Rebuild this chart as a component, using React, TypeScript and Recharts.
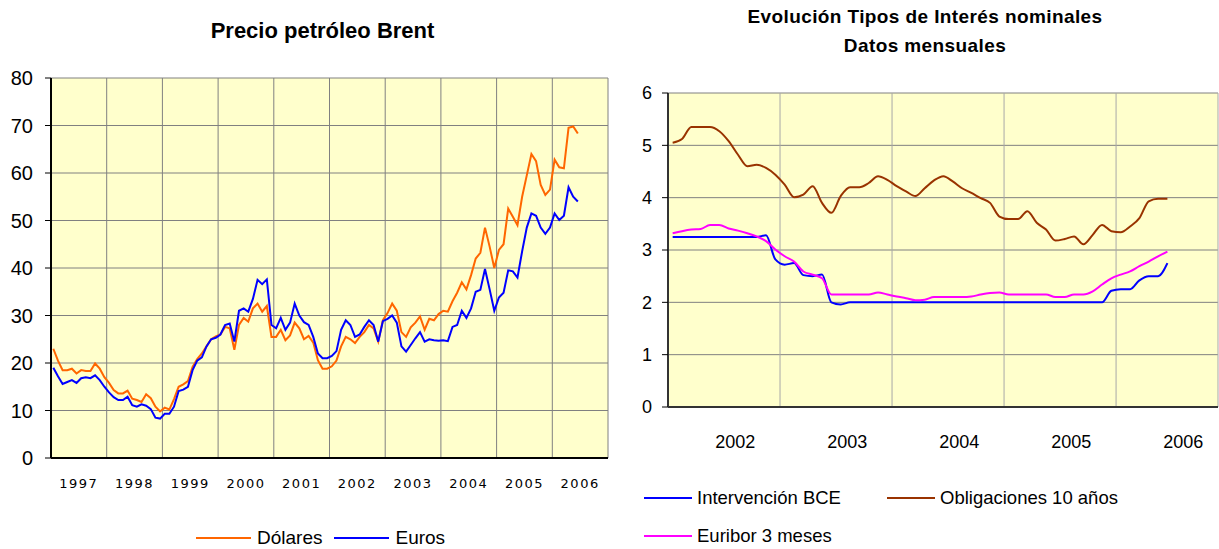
import { LineChart, Line, XAxis, YAxis, CartesianGrid } from "recharts";

// Precio petróleo Brent, monthly, Jan 1997 - Jun 2006
const OIL_START = 1997;
const oilYears = [1997, 1998, 1999, 2000, 2001, 2002, 2003, 2004, 2005, 2006];
const oilGridYears = [1997, 1998, 1999, 2000, 2001, 2002, 2003, 2004, 2005, 2006, 2007];
const oilTicks = [0, 10, 20, 30, 40, 50, 60, 70, 80];

const dolares = [
  23.0, 20.5, 18.5, 18.5, 18.8, 17.8, 18.5, 18.3, 18.3, 19.9, 18.8, 17.0, // 1997
  15.8, 14.3, 13.6, 13.6, 14.2, 12.5, 12.2, 11.8, 13.4, 12.6, 10.8, 9.8, // 1998
  10.6, 10.2, 12.4, 15.0, 15.5, 16.2, 19.2, 20.8, 22.0, 23.5, 25.0, 25.6, // 1999
  26.0, 27.6, 27.3, 22.8, 28.0, 29.5, 28.7, 31.5, 32.5, 30.8, 32.0, 25.5, // 2000
  25.5, 27.0, 24.8, 25.8, 28.5, 27.3, 25.0, 25.7, 24.3, 20.6, 18.8, 18.8, // 2001
  19.3, 20.5, 23.5, 25.5, 25.0, 24.2, 25.5, 26.5, 28.0, 27.3, 24.5, 29.0, // 2002
  30.5, 32.5, 31.0, 26.5, 25.5, 27.5, 28.5, 29.8, 27.0, 29.3, 29.0, 30.3, // 2003
  31.0, 30.8, 33.0, 34.8, 37.0, 35.5, 38.5, 42.0, 43.2, 48.5, 44.5, 40.0, // 2004
  43.8, 45.0, 52.5, 50.8, 49.0, 55.0, 59.5, 64.0, 62.5, 57.5, 55.4, 56.5, // 2005
  62.8, 61.2, 61.0, 69.5, 69.8, 68.3, // 2006
];

const euros = [
  19.0, 17.2, 15.6, 16.0, 16.4, 15.8, 16.8, 17.0, 16.8, 17.4, 16.4, 15.0, // 1997
  13.8, 12.8, 12.2, 12.2, 12.9, 11.1, 10.8, 11.3, 11.0, 10.3, 8.5, 8.3, // 1998
  9.3, 9.3, 10.8, 14.1, 14.4, 15.0, 18.5, 20.5, 21.2, 23.5, 25.0, 25.3, // 1999
  26.0, 28.0, 28.3, 24.5, 31.0, 31.5, 30.8, 33.5, 37.5, 36.6, 37.6, 28.0, // 2000
  27.3, 29.5, 27.0, 28.5, 32.5, 30.0, 28.6, 28.0, 25.5, 22.0, 21.0, 21.0, // 2001
  21.5, 22.5, 27.0, 29.0, 28.0, 25.5, 26.0, 27.6, 29.0, 28.0, 24.5, 28.8, // 2002
  29.3, 30.0, 28.5, 23.5, 22.4, 23.8, 25.2, 26.5, 24.5, 25.0, 24.8, 24.7, // 2003
  24.8, 24.6, 27.6, 28.0, 31.0, 29.5, 31.5, 35.0, 35.4, 39.8, 35.5, 31.0, // 2004
  33.8, 34.8, 39.5, 39.3, 38.0, 43.5, 48.5, 51.5, 51.0, 48.5, 47.2, 48.5, // 2005
  51.5, 50.1, 51.0, 57.0, 55.0, 54.0, // 2006
];

// Tipos de interés nominales, monthly, Jan 2002 - Jun 2006
const RATE_START = 2002;
const rateYears = [2002, 2003, 2004, 2005, 2006];
const rateGridYears = [2003, 2004, 2005, 2006, 2006.91];
const rateTicks = [0, 1, 2, 3, 4, 5, 6];

const intervencionBCE = [
  3.25, 3.25, 3.25, 3.25, 3.25, 3.25, 3.25, 3.25, 3.25, 3.25, 3.28, 2.82, // 2002
  2.72, 2.75, 2.52, 2.5, 2.53, 2.0, 1.96, 2.0, 2.0, 2.0, 2.0, 2.0, // 2003
  2.0, 2.0, 2.0, 2.0, 2.0, 2.0, 2.0, 2.0, 2.0, 2.0, 2.0, 2.0, // 2004
  2.0, 2.0, 2.0, 2.0, 2.0, 2.0, 2.0, 2.0, 2.0, 2.0, 2.0, 2.22, // 2005
  2.25, 2.25, 2.42, 2.5, 2.5, 2.75, // 2006
];

const euribor3m = [
  3.32, 3.36, 3.39, 3.4, 3.48, 3.48, 3.41, 3.37, 3.32, 3.26, 3.17, 3.01, // 2002
  2.88, 2.78, 2.59, 2.53, 2.46, 2.15, 2.15, 2.15, 2.15, 2.15, 2.19, 2.15, // 2003
  2.11, 2.08, 2.04, 2.05, 2.1, 2.1, 2.1, 2.1, 2.11, 2.15, 2.18, 2.19, // 2004
  2.15, 2.15, 2.15, 2.15, 2.15, 2.1, 2.1, 2.15, 2.15, 2.21, 2.34, 2.46, // 2005
  2.53, 2.59, 2.69, 2.78, 2.88, 2.97, // 2006
];

const obligaciones10 = [
  5.05, 5.12, 5.35, 5.35, 5.35, 5.27, 5.08, 4.82, 4.6, 4.63, 4.57, 4.44, // 2002
  4.25, 4.01, 4.06, 4.22, 3.9, 3.71, 4.03, 4.2, 4.2, 4.28, 4.41, 4.34, // 2003
  4.22, 4.12, 4.03, 4.18, 4.33, 4.41, 4.31, 4.18, 4.09, 3.99, 3.9, 3.64, // 2004
  3.59, 3.59, 3.74, 3.52, 3.39, 3.18, 3.21, 3.26, 3.11, 3.29, 3.48, 3.36, // 2005
  3.34, 3.45, 3.61, 3.93, 3.98, 3.98, // 2006
];

const oilData = dolares.map((v, i) => ({
  t: OIL_START + (i + 0.5) / 12,
  dolares: v,
  euros: euros[i],
}));

const rateData = intervencionBCE.map((v, i) => ({
  t: RATE_START + (i + 0.5) / 12,
  bce: v,
  euribor: euribor3m[i],
  bonos: obligaciones10[i],
}));

const oilSeries = [
  { key: "dolares", label: "Dólares", color: "#FF6600" },
  { key: "euros", label: "Euros", color: "#0000FF" },
];

const rateSeries = [
  { key: "bce", label: "Intervención BCE", color: "#0000FF" },
  { key: "bonos", label: "Obligaciones 10 años", color: "#993300" },
  { key: "euribor", label: "Euribor 3 meses", color: "#FF00FF" },
];

const FONT = "'Liberation Sans', Arial, sans-serif";
const PLOT_BG = "#FFFFCC";

function LegendItem({
  color,
  label,
  size,
  lineWidth,
  gap,
}: {
  color: string;
  label: string;
  size: number;
  lineWidth: number;
  gap: number;
}) {
  return (
    <div style={{ display: "flex", alignItems: "center", fontFamily: FONT, fontSize: size, color: "#000", lineHeight: "21px" }}>
      <span style={{ display: "inline-block", width: lineWidth, height: 2, background: color, marginRight: gap }} />
      {label}
    </div>
  );
}

export default function App() {
  return (
    <div
      style={{
        position: "absolute",
        left: 0,
        top: 0,
        width: 1219,
        height: 549,
        background: "#fff",
        overflow: "hidden",
      }}
    >
      {/* Left: Brent */}
      <div
        style={{
          position: "absolute",
          left: 0,
          width: 645,
          top: 18,
          textAlign: "center",
          fontFamily: FONT,
          fontWeight: "bold",
          fontSize: 22,
          lineHeight: "26px",
        }}
      >
        Precio petróleo Brent
      </div>
      <div style={{ position: "absolute", left: 0, top: 0 }}>
        <LineChart width={620} height={549} data={oilData} margin={{ top: 78, right: 12, left: 10, bottom: 61 }}>
          <CartesianGrid stroke="#808080" fill={PLOT_BG} verticalValues={oilGridYears} />
          <XAxis
            dataKey="t"
            type="number"
            domain={[1997, 2007]}
            ticks={oilYears.map((y) => y + 0.5)}
            interval={0}
            tickFormatter={(v: number) => String(Math.floor(v))}
            tickLine={false}
            tickMargin={15}
            height={30}
            axisLine={{ stroke: "#000", strokeWidth: 2 }}
            tick={{ fontSize: 13, fill: "#000", fontFamily: "'DejaVu Sans', sans-serif", letterSpacing: 1.5 }}
          />
          <YAxis
            type="number"
            domain={[0, 80]}
            ticks={oilTicks}
            interval={0}
            width={41}
            tickSize={6}
            tickMargin={12}
            tickLine={{ stroke: "#000" }}
            axisLine={{ stroke: "#000", strokeWidth: 2 }}
            tick={{ fontSize: 20, fill: "#000", fontFamily: FONT }}
          />
          {oilSeries.map((s) => (
            <Line
              key={s.key}
              type="linear"
              dataKey={s.key}
              stroke={s.color}
              strokeWidth={2}
              dot={false}
              isAnimationActive={false}
            />
          ))}
        </LineChart>
      </div>
      <div style={{ position: "absolute", left: 196, top: 527, display: "flex", gap: 12 }}>
        {oilSeries.map((s) => (
          <LegendItem key={s.key} color={s.color} label={s.label} size={19} lineWidth={55} gap={6} />
        ))}
      </div>

      {/* Right: tipos de interés */}
      <div
        style={{
          position: "absolute",
          left: 620,
          width: 610,
          top: 2,
          textAlign: "center",
          fontFamily: FONT,
          fontWeight: "bold",
          fontSize: 19,
          lineHeight: "29px",
          letterSpacing: 0.4,
        }}
      >
        Evolución Tipos de Interés nominales
        <br />
        Datos mensuales
      </div>
      <div style={{ position: "absolute", left: 620, top: 0 }}>
        <LineChart width={599} height={549} data={rateData} margin={{ top: 93, right: 1, left: 8, bottom: 112 }}>
          <CartesianGrid stroke="#808080" fill={PLOT_BG} vertical={false} />
          <CartesianGrid stroke="#A8A8A8" horizontal={false} verticalValues={rateGridYears} />
          <XAxis
            dataKey="t"
            type="number"
            domain={[2002, 2006.91]}
            ticks={rateYears.map((y) => y + 0.6)}
            interval={0}
            tickFormatter={(v: number) => String(Math.floor(v))}
            tickLine={false}
            tickMargin={22}
            height={30}
            axisLine={{ stroke: "#333", strokeWidth: 2 }}
            tick={{ fontSize: 18, fill: "#000", fontFamily: FONT }}
          />
          <YAxis
            type="number"
            domain={[0, 6]}
            ticks={rateTicks}
            interval={0}
            width={40}
            tickSize={6}
            tickMargin={10}
            tickLine={{ stroke: "#000" }}
            axisLine={{ stroke: "#333", strokeWidth: 2 }}
            tick={{ fontSize: 18, fill: "#000", fontFamily: FONT }}
          />
          {rateSeries.map((s) => (
            <Line
              key={s.key}
              type="monotone"
              dataKey={s.key}
              stroke={s.color}
              strokeWidth={2}
              dot={false}
              isAnimationActive={false}
            />
          ))}
        </LineChart>
      </div>
      <div
        style={{
          position: "absolute",
          left: 644,
          top: 487,
          display: "grid",
          gridTemplateColumns: "243px auto",
          rowGap: 17,
        }}
      >
        {rateSeries.map((s) => (
          <LegendItem key={s.key} color={s.color} label={s.label} size={18.5} lineWidth={48} gap={5} />
        ))}
      </div>
    </div>
  );
}
